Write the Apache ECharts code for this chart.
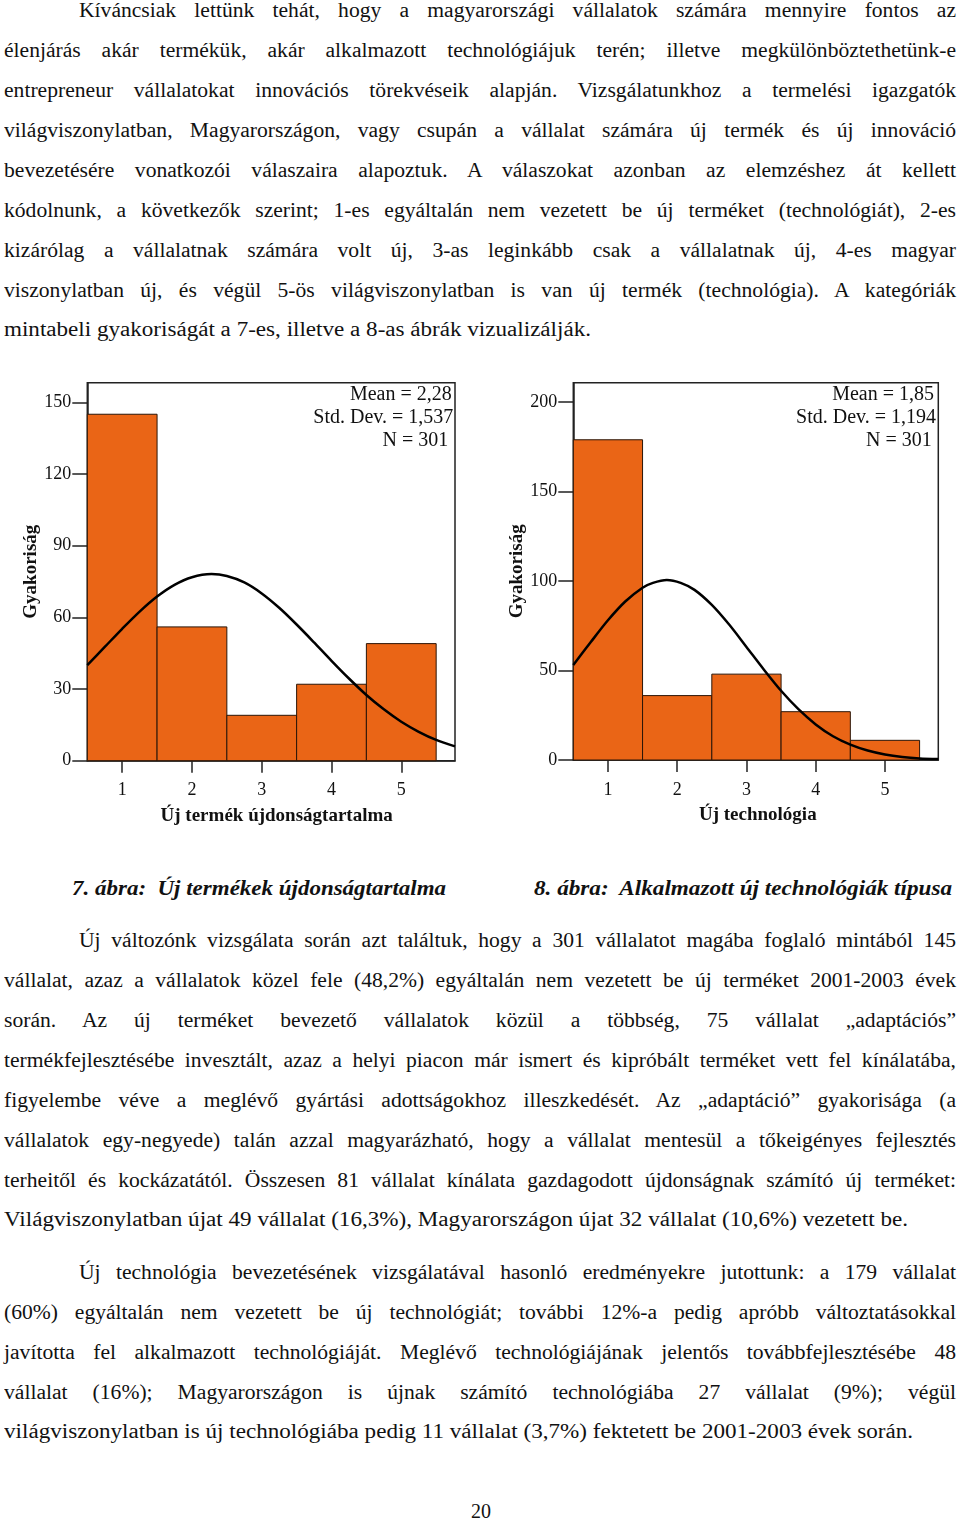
<!DOCTYPE html>
<html>
<head>
<meta charset="utf-8">
<script src="https://cdn.jsdelivr.net/npm/echarts@6/dist/echarts.min.js"></script>
<style>
  html, body { margin:0; padding:0; background:#fff; }
  body { width:960px; height:1521px; position:relative; overflow:hidden;
         font-family:'Liberation Serif','Times New Roman','DejaVu Serif',serif; color:#111; }
  .ln { position:absolute; height:40px; line-height:40px; font-size:20px; white-space:nowrap; }
  .ln span { display:inline-block; white-space:pre; transform-origin:0 50%; }
  .cap { position:absolute; font-size:22px; font-weight:bold; font-style:italic; line-height:30px; white-space:nowrap; }
  .cap span { display:inline-block; white-space:pre; transform-origin:0 50%; }
  #charts { position:absolute; left:0; top:360px; width:960px; height:480px; }
</style>
</head>
<body>
<div id="text"></div>
<div id="charts"></div>
<script>
// ---------------- data ----------------
const categories = [1, 2, 3, 4, 5];
const productCounts = [145, 56, 19, 32, 49];
const techCounts = [179, 36, 48, 27, 11];

const productYTicks = [0, 30, 60, 90, 120, 150];
const techYTicks = [0, 50, 100, 150, 200];

// normal curve (x positions and heights)
const productCurveX = [0.5, 0.75, 1, 1.25, 1.5, 1.75, 2, 2.28, 2.5, 2.75, 3, 3.25, 3.5, 3.75, 4, 4.25, 4.5, 4.75, 5, 5.25, 5.5, 5.77];
const productCurveY = [40.0, 47.6, 55.2, 62.4, 68.7, 73.6, 76.8, 78.1, 77.3, 74.6, 70.0, 64.0, 57.0, 49.5, 41.8, 34.4, 27.5, 21.5, 16.3, 12.1, 8.7, 6.0];
const techCurveX = [0.5, 0.75, 1, 1.25, 1.5, 1.65, 1.85, 2.05, 2.25, 2.5, 2.75, 3, 3.25, 3.5, 3.75, 4, 4.25, 4.5, 4.75, 5, 5.25, 5.5, 5.77];
const techCurveY = [53.1, 65.8, 78.1, 88.6, 96.3, 99.0, 100.6, 99.0, 95.1, 86.7, 75.7, 63.2, 50.6, 38.7, 28.4, 19.9, 13.3, 8.6, 5.3, 3.1, 1.7, 0.9, 0.5];

const productStats = ['Mean = 2,28', 'Std. Dev. = 1,537', 'N = 301'];
const techStats = ['Mean = 1,85', 'Std. Dev. = 1,194', 'N = 301'];

const yAxisTitle = 'Gyakoriság';
const productXTitle = 'Új termék újdonságtartalma';
const techXTitle = 'Új technológia';

const captions = ['7. ábra:  Új termékek újdonságtartalma', '8. ábra:  Alkalmazott új technológiák típusa'];

const para1 = [
  'Kíváncsiak lettünk tehát, hogy a magyarországi vállalatok számára mennyire fontos az',
  'élenjárás akár termékük, akár alkalmazott technológiájuk terén; illetve megkülönböztethetünk-e',
  'entrepreneur vállalatokat innovációs törekvéseik alapján. Vizsgálatunkhoz a termelési igazgatók',
  'világviszonylatban, Magyarországon, vagy csupán a vállalat számára új termék és új innováció',
  'bevezetésére vonatkozói válaszaira alapoztuk. A válaszokat azonban az elemzéshez át kellett',
  'kódolnunk, a következők szerint; 1-es egyáltalán nem vezetett be új terméket (technológiát), 2-es',
  'kizárólag a vállalatnak számára volt új, 3-as leginkább csak a vállalatnak új, 4-es magyar',
  'viszonylatban új, és végül 5-ös világviszonylatban is van új termék (technológia). A kategóriák',
  'mintabeli gyakoriságát a 7-es, illetve a 8-as ábrák vizualizálják.'
];
const para2 = [
  'Új változónk vizsgálata során azt találtuk, hogy a 301 vállalatot magába foglaló mintából 145',
  'vállalat, azaz a vállalatok közel fele (48,2%) egyáltalán nem vezetett be új terméket 2001-2003 évek',
  'során. Az új terméket bevezető vállalatok közül a többség, 75 vállalat „adaptációs”',
  'termékfejlesztésébe invesztált, azaz a helyi piacon már ismert és kipróbált terméket vett fel kínálatába,',
  'figyelembe véve a meglévő gyártási adottságokhoz illeszkedését. Az „adaptáció” gyakorisága (a',
  'vállalatok egy-negyede) talán azzal magyarázható, hogy a vállalat mentesül a tőkeigényes fejlesztés',
  'terheitől és kockázatától. Összesen 81 vállalat kínálata gazdagodott újdonságnak számító új terméket:',
  'Világviszonylatban újat 49 vállalat (16,3%), Magyarországon újat 32 vállalat (10,6%) vezetett be.'
];
const para3 = [
  'Új technológia bevezetésének vizsgálatával hasonló eredményekre jutottunk: a 179 vállalat',
  '(60%) egyáltalán nem vezetett be új technológiát; további 12%-a pedig apróbb változtatásokkal',
  'javította fel alkalmazott technológiáját. Meglévő technológiájának jelentős továbbfejlesztésébe 48',
  'vállalat (16%); Magyarországon is újnak számító technológiába 27 vállalat (9%); végül',
  'világviszonylatban is új technológiába pedig 11 vállalat (3,7%) fektetett be 2001-2003 évek során.'
];
const pageNumber = '20';

// ---------------- text layout ----------------
const STRETCH = 1.08;
const textRoot = document.getElementById('text');
function addLine(str, cy, left, right, mode) {
  const d = document.createElement('div');
  d.className = 'ln';
  d.style.left = left + 'px';
  d.style.top = (cy - 20.5) + 'px';
  const s = document.createElement('span');
  s.textContent = str;
  d.appendChild(s);
  textRoot.appendChild(d);
  const w = s.getBoundingClientRect().width;
  const target = right - left;
  if (mode === 'justify') {
    const spaces = (str.match(/ /g) || []).length;
    if (w * STRETCH < target && spaces) {
      s.style.wordSpacing = ((target / STRETCH - w) / spaces) + 'px';
      s.style.transform = 'scaleX(' + STRETCH + ')';
    } else {
      s.style.transform = 'scaleX(' + (target / w) + ')';
    }
  } else if (mode === 'fit') {
    s.style.transform = 'scaleX(' + (target / w) + ')';
  }
}
function addPara(lines, y0, lastRight) {
  lines.forEach((str, i) => {
    const left = i === 0 ? 79 : 4;
    const last = i === lines.length - 1;
    addLine(str, y0 + i * 40 - (last ? 1 : 0), left, last ? lastRight : 956, last ? 'fit' : 'justify');
  });
}
addPara(para1, 10, 591);
addPara(para2, 940, 908);
addPara(para3, 1272, 913);

function addCaption(str, cy, left, right) {
  const d = document.createElement('div');
  d.className = 'cap';
  d.style.left = left + 'px';
  d.style.top = (cy - 15) + 'px';
  const s = document.createElement('span');
  s.textContent = str;
  d.appendChild(s);
  textRoot.appendChild(d);
  const w = s.getBoundingClientRect().width;
  s.style.transform = 'scaleX(' + ((right - left) / w) + ')';
}
addCaption(captions[0], 888, 72, 446);
addCaption(captions[1], 888, 534, 952);

(function () {
  const d = document.createElement('div');
  d.className = 'ln';
  d.style.left = '0px';
  d.style.width = '962px';
  d.style.textAlign = 'center';
  d.style.top = (1511 - 20.5) + 'px';
  d.textContent = pageNumber;
  textRoot.appendChild(d);
})();

// ---------------- charts ----------------
const FONT = 'Liberation Serif';
const BAR = '#EA6516';
const chart = echarts.init(document.getElementById('charts'), null, { renderer: 'canvas' });

function histRender(params, api) {
  const x = api.value(0), y = api.value(1);
  const p0 = api.coord([x - 0.5, 0]);
  const p1 = api.coord([x + 0.5, y]);
  return {
    type: 'rect',
    shape: { x: p0[0], y: p1[1], width: p1[0] - p0[0], height: p0[1] - p1[1] },
    style: { fill: BAR, stroke: '#2b1608', lineWidth: 1 }
  };
}

function xAxisCfg(gridIndex, name, padLeft) {
  return {
    gridIndex, type: 'value', min: 0.5, max: 5.77,
    name, nameLocation: 'middle', nameGap: 46,
    nameTextStyle: { fontFamily: FONT, fontSize: 19, fontWeight: 'bold', color: '#111', padding: [0, 0, 0, padLeft] },
    axisLine: { show: true, onZero: false, lineStyle: { color: '#222', width: 1.5 } },
    axisTick: { show: true, inside: false, length: 12, customValues: categories, lineStyle: { color: '#222', width: 1.5 } },
    axisLabel: { show: true, margin: 21, fontFamily: FONT, fontSize: 18, color: '#111', customValues: categories },
    splitLine: { show: false }
  };
}
function yAxisCfg(gridIndex, max, ticks, nameGap) {
  return {
    gridIndex, type: 'value', min: 0, max,
    name: yAxisTitle, nameLocation: 'middle', nameGap, nameRotate: 90,
    nameTextStyle: { fontFamily: FONT, fontSize: 19, fontWeight: 'bold', color: '#111' },
    axisLine: { show: true, lineStyle: { color: '#222', width: 1.5 } },
    axisTick: { show: true, inside: false, length: 15, customValues: ticks, lineStyle: { color: '#222', width: 1.5 } },
    axisLabel: { show: true, margin: 16, fontFamily: FONT, fontSize: 18, color: '#111', customValues: ticks },
    splitLine: { show: false }
  };
}

function statsGraphics(lines, rights, top) {
  return lines.map((t, i) => ({
    type: 'text',
    x: rights[i], y: top + i * 22.8,
    style: { text: t, fontFamily: FONT, fontSize: 20, fill: '#111', align: 'right', verticalAlign: 'middle' },
    z: 100
  }));
}

const option = {
  animation: false,
  grid: [
    { left: 87.3, top: 22.7, width: 367.7, height: 378, show: true, borderColor: '#222', borderWidth: 1.5, containLabel: false },
    { left: 573.3, top: 22.7, width: 365, height: 377.3, show: true, borderColor: '#222', borderWidth: 1.5, containLabel: false }
  ],
  xAxis: [xAxisCfg(0, productXTitle, 11), xAxisCfg(1, techXTitle, 4)],
  yAxis: [yAxisCfg(0, 158.2, productYTicks, 43), yAxisCfg(1, 210.9, techYTicks, 47)],
  series: [
    { type: 'custom', xAxisIndex: 0, yAxisIndex: 0, renderItem: histRender, encode: { x: 0, y: 1 },
      data: categories.map((c, i) => [c, productCounts[i]]), z: 2 },
    { type: 'line', xAxisIndex: 0, yAxisIndex: 0, smooth: 0.3, showSymbol: false, symbol: 'none',
      lineStyle: { color: '#000', width: 2.5 }, data: productCurveX.map((x, i) => [x, productCurveY[i]]), z: 3 },
    { type: 'custom', xAxisIndex: 1, yAxisIndex: 1, renderItem: histRender, encode: { x: 0, y: 1 },
      data: categories.map((c, i) => [c, techCounts[i]]), z: 2 },
    { type: 'line', xAxisIndex: 1, yAxisIndex: 1, smooth: 0.3, showSymbol: false, symbol: 'none',
      lineStyle: { color: '#000', width: 2.5 }, data: techCurveX.map((x, i) => [x, techCurveY[i]]), z: 3 }
  ],
  graphic: [].concat(
    statsGraphics(productStats, [451.7, 453.3, 448.3], 35),
    statsGraphics(techStats, [934, 936, 931.7], 35)
  )
};
chart.setOption(option);
</script>
</body>
</html>
